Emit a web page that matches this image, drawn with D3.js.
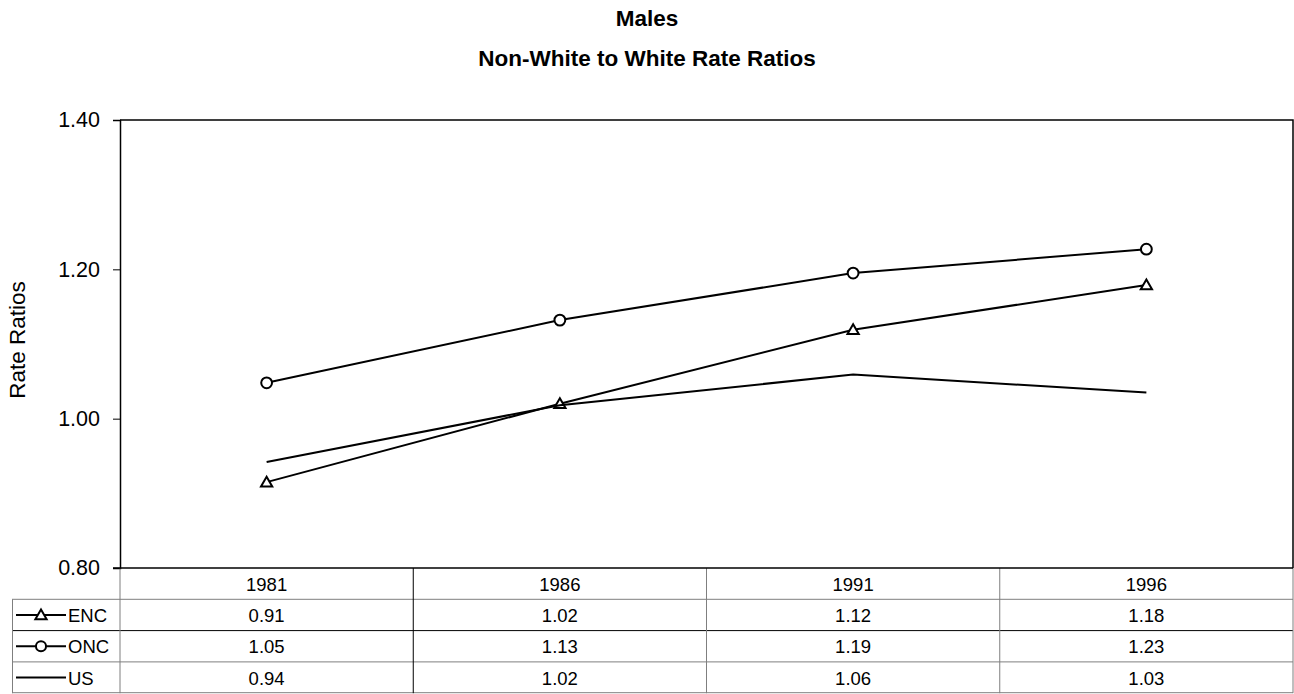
<!DOCTYPE html>
<html>
<head>
<meta charset="utf-8">
<script src="https://cdn.jsdelivr.net/npm/d3@7"></script>
<style>
  body { margin: 0; background: #fff; }
  svg { display: block; font-family: "Liberation Sans", Arial, sans-serif; }
</style>
</head>
<body>
<svg id="chart"></svg>
<script>
var years = ["1981", "1986", "1991", "1996"];
var seriesNames = ["ENC", "ONC", "US"];
var encValues = [0.915, 1.020, 1.119, 1.179];
var oncValues = [1.048, 1.132, 1.195, 1.227];
var usValues = [0.942, 1.018, 1.059, 1.035];
var encLabels = ["0.91", "1.02", "1.12", "1.18"];
var oncLabels = ["1.05", "1.13", "1.19", "1.23"];
var usLabels = ["0.94", "1.02", "1.06", "1.03"];
var yTicks = [0.8, 1.0, 1.2, 1.4];

var width = 1294, height = 694;
var plotLeft = 120, plotRight = 1293, plotTop = 120, plotBottom = 568;
var rowH = 31.3;

var svg = d3.select("#chart").attr("width", width).attr("height", height);

var series = [
  { name: seriesNames[0], values: encValues, labels: encLabels, marker: "triangle" },
  { name: seriesNames[1], values: oncValues, labels: oncLabels, marker: "circle" },
  { name: seriesNames[2], values: usValues, labels: usLabels, marker: "none" }
];

var xscale = d3.scaleBand().domain(years).range([plotLeft, plotRight]);
var yscale = d3.scaleLinear().domain([0.8, 1.4]).range([plotBottom, plotTop]);

// titles
svg.append("text").attr("x", 647).attr("y", 26).attr("text-anchor", "middle")
  .style("font-weight", "bold").style("font-size", "22.5px").text("Males");
svg.append("text").attr("x", 647).attr("y", 66).attr("text-anchor", "middle")
  .style("font-weight", "bold").style("font-size", "22.5px").text("Non-White to White Rate Ratios");

// y axis title
svg.append("text").attr("text-anchor", "middle")
  .attr("transform", "translate(25,340)rotate(-90)")
  .style("font-size", "22.5px").text("Rate Ratios");

// plot frame (top + right)
svg.append("path").attr("fill", "none").attr("stroke", "#000").attr("stroke-width", 1.5)
  .attr("d", "M" + plotLeft + "," + plotTop + "H" + plotRight + "V" + plotBottom);

// y axis
var yaxis = d3.axisLeft(yscale).tickValues(yTicks).tickFormat(d3.format(".2f")).tickSize(7).tickPadding(13);
var gy = svg.append("g").attr("transform", "translate(" + plotLeft + ",0)").call(yaxis);
gy.select(".domain").attr("stroke-width", 1.5);
gy.selectAll("text").style("font-size", "21.5px").style("font-family", "Liberation Sans, Arial, sans-serif").attr("fill", "#000");

// lines
var line = d3.line()
  .x(function (d, i) { return xscale(years[i]) + xscale.bandwidth() / 2; })
  .y(function (d) { return yscale(d); });

series.forEach(function (s) {
  svg.append("path").attr("fill", "none").attr("stroke", "#000").attr("stroke-width", 2)
    .attr("d", line(s.values));
  if (s.marker === "none") return;
  var sym = s.marker === "triangle" ? d3.symbolTriangle : d3.symbolCircle;
  var size = s.marker === "triangle" ? 55 : 92;
  svg.selectAll(".m-" + s.name).data(s.values).enter().append("path")
    .attr("class", "m-" + s.name)
    .attr("d", d3.symbol().type(sym).size(size))
    .attr("transform", function (d, i) {
      var dy = s.marker === "triangle" ? 1 : 0;
      return "translate(" + (xscale(years[i]) + xscale.bandwidth() / 2) + "," + (yscale(d) + dy) + ")";
    })
    .attr("fill", "#fff").attr("stroke", "#000").attr("stroke-width", 2);
});

// data table
var tbl = svg.append("g");
var gray = "#7f7f7f";
var rowY = function (r) { return plotBottom + r * rowH; };
var tableBottom = rowY(4);

// horizontal lines
tbl.append("line").attr("x1", plotLeft).attr("x2", plotRight).attr("y1", rowY(1)).attr("y2", rowY(1)).attr("stroke", gray);
tbl.append("line").attr("x1", 12).attr("x2", plotLeft).attr("y1", rowY(1)).attr("y2", rowY(1)).attr("stroke", gray);
tbl.append("line").attr("x1", 12).attr("x2", plotRight).attr("y1", rowY(2)).attr("y2", rowY(2)).attr("stroke", "#000");
tbl.append("line").attr("x1", 12).attr("x2", plotRight).attr("y1", rowY(3)).attr("y2", rowY(3)).attr("stroke", gray);
tbl.append("line").attr("x1", 12).attr("x2", plotRight).attr("y1", tableBottom - 0.5).attr("y2", tableBottom - 0.5).attr("stroke", gray);

// vertical lines
tbl.append("line").attr("x1", 12.5).attr("x2", 12.5).attr("y1", rowY(1)).attr("y2", tableBottom).attr("stroke", gray);
tbl.append("line").attr("x1", plotLeft).attr("x2", plotLeft).attr("y1", plotBottom).attr("y2", tableBottom).attr("stroke", gray);
years.forEach(function (y, i) {
  var xr = xscale(y) + xscale.bandwidth();
  tbl.append("line").attr("x1", xr).attr("x2", xr).attr("y1", plotBottom).attr("y2", tableBottom)
    .attr("stroke", i === 0 ? "#000" : gray);
});

// bottom axis line (drawn over table)
svg.append("line").attr("x1", plotLeft - 7).attr("x2", plotRight).attr("y1", plotBottom).attr("y2", plotBottom)
  .attr("stroke", "#000").attr("stroke-width", 1.5);

// year headers
tbl.selectAll(".yr").data(years).enter().append("text")
  .attr("x", function (d) { return xscale(d) + xscale.bandwidth() / 2; })
  .attr("y", rowY(0) + rowH / 2 + 7)
  .attr("text-anchor", "middle").style("font-size", "18.5px").text(function (d) { return d; });

series.forEach(function (s, r) {
  var cy = rowY(r + 1) + rowH / 2;
  tbl.selectAll(".v-" + s.name).data(s.labels).enter().append("text")
    .attr("x", function (d, i) { return xscale(years[i]) + xscale.bandwidth() / 2; })
    .attr("y", cy + 7).attr("text-anchor", "middle").style("font-size", "18.5px")
    .text(function (d) { return d; });
  // legend key
  tbl.append("line").attr("x1", 16).attr("x2", 66).attr("y1", cy).attr("y2", cy)
    .attr("stroke", "#000").attr("stroke-width", 2);
  if (s.marker !== "none") {
    var sym = s.marker === "triangle" ? d3.symbolTriangle : d3.symbolCircle;
    var size = s.marker === "triangle" ? 55 : 80;
    tbl.append("path").attr("d", d3.symbol().type(sym).size(size))
      .attr("transform", "translate(41," + (cy + (s.marker === "triangle" ? 1 : 0)) + ")")
      .attr("fill", "#fff").attr("stroke", "#000").attr("stroke-width", 2);
  }
  tbl.append("text").attr("x", 68).attr("y", cy + 7).style("font-size", "18.5px").text(s.name);
});
</script>
</body>
</html>
